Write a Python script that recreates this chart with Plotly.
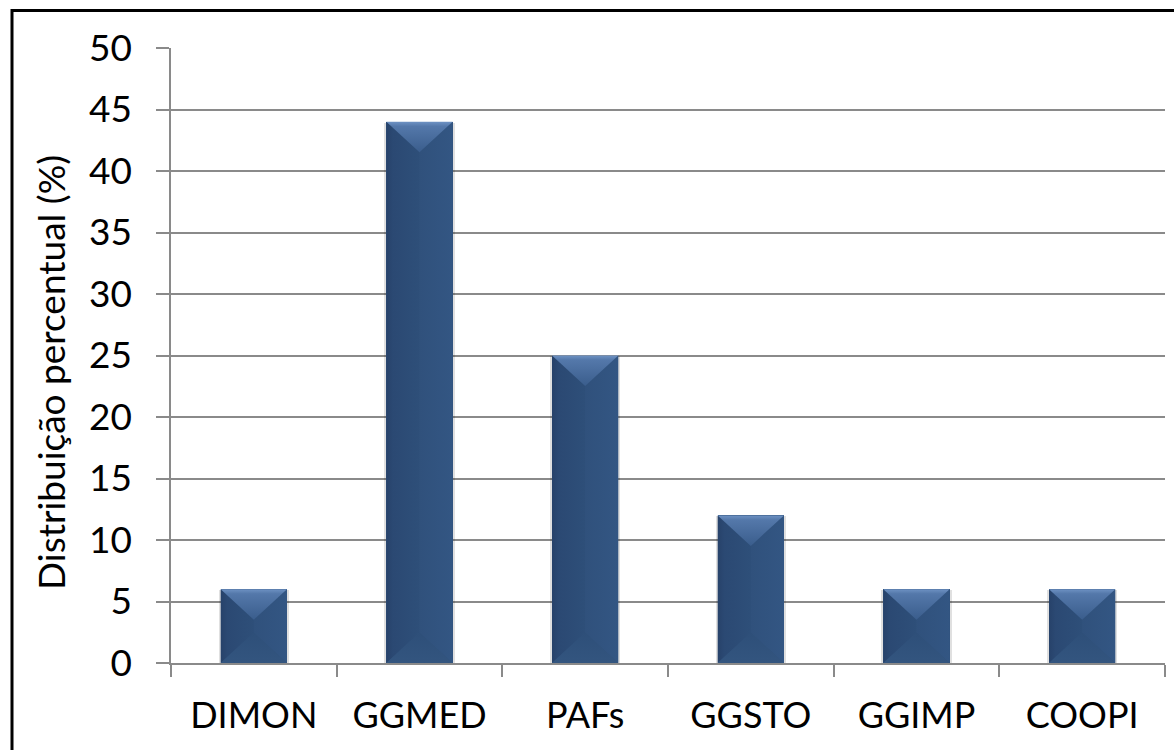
import plotly.graph_objects as go

# Percentage distribution by unit
categories = ["DIMON", "GGMED", "PAFs", "GGSTO", "GGIMP", "COOPI"]
values = [6, 44, 25, 12, 6, 6]
y_ticks = [0, 5, 10, 15, 20, 25, 30, 35, 40, 45, 50]

FONT = "Lato, 'Open Sans', sans-serif"
W, H = 1174, 750
M_L, M_R, M_T, M_B = 171, 9, 48, 87
Y_MAX = 50
BAR_W = 0.4
HW = BAR_W / 2

plot_w = W - M_L - M_R
plot_h = H - M_T - M_B
x_ppu = plot_w / len(categories)   # pixels per x unit
y_ppu = plot_h / Y_MAX             # pixels per y unit

BODY = "#2f507a"
fig = go.Figure()

xs = list(range(len(categories)))

# soft drop shadow behind each bar
fig.add_trace(go.Bar(
    x=xs, y=[v + 0.15 for v in values], base=-0.22,
    width=BAR_W + 4 / x_ppu,
    marker=dict(color="rgba(0,0,0,0.12)", line=dict(width=0)),
    hoverinfo="skip", showlegend=False))

# main bars
fig.add_trace(go.Bar(
    x=xs, y=values, width=BAR_W,
    marker=dict(color=BODY, line=dict(width=0)),
    showlegend=False))


def poly(px, py, grad):
    fig.add_trace(go.Scatter(
        x=px + [px[0]], y=py + [py[0]], mode="lines", fill="toself",
        fillgradient=grad, line=dict(width=0),
        hoverinfo="skip", showlegend=False))


# bevel facets on each bar (45 degree bevel, capped at half bar width)
for i, v in zip(xs, values):
    d_px = min(HW * x_ppu * 0.92, v * y_ppu / 2)
    d = d_px / y_ppu
    a = min(HW, d_px / x_ppu / 0.92)
    l, r = i - HW, i + HW
    # left facet
    poly([l, l + a, l + a, l], [v, v - d, d, 0],
         dict(type="horizontal", start=l, stop=l + a,
              colorscale=[[0, "#27426a"], [0.2, "#2b4973"], [1, "#2e4f79"]]))
    # right facet
    poly([r, r - a, r - a, r], [v, v - d, d, 0],
         dict(type="horizontal", start=r - a, stop=r,
              colorscale=[[0, "#30517c"], [1, "#335683"]]))
    # bottom facet
    poly([l, l + a, r - a, r], [0, d, d, 0],
         dict(type="vertical", start=0, stop=d,
              colorscale=[[0, "#33557f"], [1, "#2e4f79"]]))
    # top facet
    poly([l, r, r - a, l + a], [v, v, v - d, v - d],
         dict(type="vertical", start=v - d, stop=v,
              colorscale=[[0, "#3a5d8c"], [0.85, "#5478aa"], [1, "#6e92c3"]]))

fig.update_layout(
    width=W, height=H,
    margin=dict(l=M_L, r=M_R, t=M_T, b=M_B, pad=0),
    paper_bgcolor="white", plot_bgcolor="white",
    font=dict(family=FONT, color="black"),
    bargap=0, barmode="overlay",
    xaxis=dict(
        range=[-0.5, len(categories) - 0.5],
        tickvals=xs, ticktext=categories, ticks="",
        tickfont=dict(size=36, family=FONT, color="black"),
        ticklabelstandoff=20,
        showline=True, linecolor="#8a8a8a", linewidth=1.5,
        showgrid=False, zeroline=False,
        minor=dict(tickvals=[k - 0.5 for k in range(len(categories) + 1)],
                   ticks="outside", ticklen=12, tickcolor="#8a8a8a",
                   tickwidth=1.5, showgrid=False),
    ),
    yaxis=dict(
        range=[0, Y_MAX], tickvals=y_ticks,
        ticks="outside", ticklen=13, tickcolor="#8a8a8a", tickwidth=1.5,
        tickfont=dict(size=37, family=FONT, color="black"),
        ticklabelstandoff=17,
        showline=True, linecolor="#8a8a8a", linewidth=1.5,
        showgrid=True, gridcolor="#8a8a8a", gridwidth=1.5,
        zeroline=False,
    ),
    annotations=[dict(
        text="Distribuição percentual (%)", textangle=-90,
        xref="paper", yref="paper",
        x=(50 - M_L) / plot_w, y=(H - M_B - 373) / plot_h,
        xanchor="center", yanchor="middle", showarrow=False,
        font=dict(size=37, family=FONT, color="black"),
    )],
    shapes=[dict(
        type="rect", xref="paper", yref="paper",
        x0=(12 - M_L) / plot_w, x1=(W + 20 - M_L) / plot_w,
        y0=(H - M_B - (H + 20)) / plot_h, y1=(H - M_B - 10.5) / plot_h,
        line=dict(color="black", width=3), fillcolor="rgba(0,0,0,0)",
        layer="above",
    )],
)

fig.write_html("out.html")
